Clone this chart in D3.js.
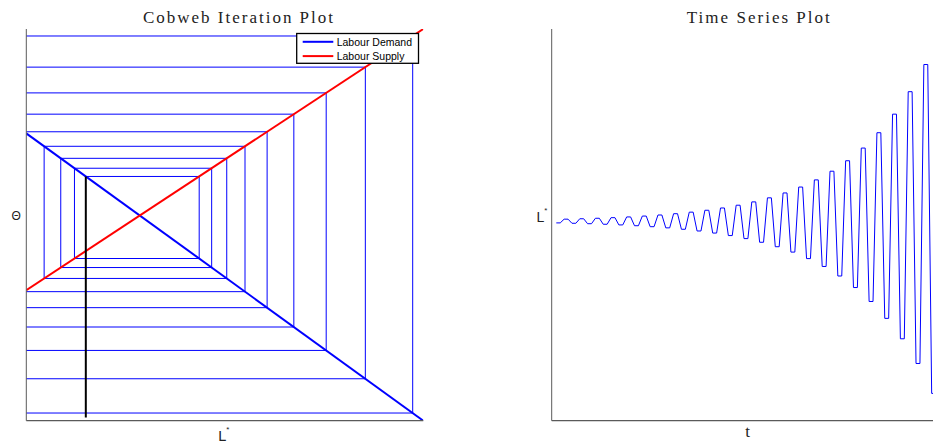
<!DOCTYPE html>
<html>
<head>
<meta charset="utf-8">
<script src="https://cdn.jsdelivr.net/npm/d3@7"></script>
<style>
  body { margin: 0; background: #fff; }
  svg { display: block; }
</style>
</head>
<body>
<svg id="chart" width="933" height="444"></svg>
<script>
// ---- Model data -------------------------------------------------------
// Labour demand and labour supply, each a straight line through two points (L, Θ)
const demandL = [0, 1];
const demandTheta = [0.7335, 0];
const supplyL = [0, 1];
const supplyTheta = [0.33318, 1.0];

// Equilibrium point where the two lines cross
const equilibriumL = 0.285878;
const equilibriumTheta = 0.523809;

// Successive labour levels L0, L1, L2, ... produced by the cobweb iteration
const labourIterates = [
  0.1499, 0.4355, 0.1213, 0.4669, 0.0868, 0.5049, 0.0449, 0.5509,
  -0.0056, 0.6066, -0.0669, 0.6739, -0.1409, 0.7554, -0.2306, 0.8540,
  -0.3390, 0.9733, -0.4703, 1.1176, -0.6291, 1.2923, -0.8212, 1.5037,
  -1.0537, 1.7594, -1.3350, 2.0688, -1.6754, 2.4433, -2.0872, 2.8963,
  -2.5856, 3.4445, -3.1886, 4.1078, -3.9182, 4.9104, -4.8011, 5.8816,
  -5.8694, 7.0567, -7.1620, 8.4785, -8.7260, 10.1990, -10.6185, 12.2807,
  -12.9085, 14.7997
];

// Θ level where the starting vertical line begins
const startTheta = 0.008;

// Axis ranges
const cobwebLDomain = [0, 1];
const cobwebThetaDomain = [0, 1];
const seriesTDomain = [0, 100];
const seriesLDomain = [-15, 15];

// Texts
const cobwebTitle = "Cobweb Iteration Plot";
const seriesTitle = "Time Series Plot";
const legendLabels = ["Labour Demand", "Labour Supply"];
const thetaTickLabel = "Θ";
const seriesXLabel = "t";

// ---- Drawing ------------------------------------------------------------
const svg = d3.select("#chart");
const blue = "#0000ff";
const red = "#ff0000";
const axisColor = "#5a5a5a";
const textColor = "#222";

// Straight-line functions built from the two-point definitions
const demandAt = d3.scaleLinear().domain(demandL).range(demandTheta);
const supplyAt = d3.scaleLinear().domain(supplyL).range(supplyTheta);

// ---------- Left panel: cobweb ----------
const left = { x0: 26.3, x1: 423.3, y0: 29, y1: 420.7 };
const xC = d3.scaleLinear().domain(cobwebLDomain).range([left.x0, left.x1]);
const yC = d3.scaleLinear().domain(cobwebThetaDomain).range([left.y1, left.y0]);

const defs = svg.append("defs");
defs.append("clipPath").attr("id", "clipCobweb")
  .append("rect")
  .attr("x", left.x0).attr("y", left.y0)
  .attr("width", left.x1 - left.x0).attr("height", left.y1 - left.y0);

const gC = svg.append("g");
const plotC = gC.append("g").attr("clip-path", "url(#clipCobweb)");

// cobweb staircase: vertical to demand, horizontal across to supply, repeat
const webPoints = [];
labourIterates.forEach((l, i) => {
  if (i > 0) webPoints.push([l, demandAt(labourIterates[i - 1])]);
  webPoints.push([l, demandAt(l)]);
});
const lineC = d3.line().x(d => xC(d[0])).y(d => yC(d[1]));

plotC.append("path")
  .attr("d", lineC(webPoints))
  .attr("fill", "none")
  .attr("stroke", blue)
  .attr("stroke-width", 1);

// demand and supply lines
plotC.append("path")
  .attr("d", lineC(demandL.map((l, i) => [l, demandTheta[i]])))
  .attr("stroke", blue).attr("stroke-width", 2).attr("fill", "none");
plotC.append("path")
  .attr("d", lineC(supplyL.map((l, i) => [l, supplyTheta[i]])))
  .attr("stroke", red).attr("stroke-width", 2).attr("fill", "none");

// starting level L0
plotC.append("path")
  .attr("d", lineC([[labourIterates[0], startTheta], [labourIterates[0], demandAt(labourIterates[0])]]))
  .attr("stroke", "#000").attr("stroke-width", 2).attr("fill", "none");

// axes (left and bottom only)
gC.append("line")
  .attr("x1", left.x0).attr("x2", left.x0).attr("y1", left.y0).attr("y2", left.y1)
  .attr("stroke", axisColor).attr("stroke-width", 1);
gC.append("line")
  .attr("x1", left.x0).attr("x2", left.x1).attr("y1", left.y1).attr("y2", left.y1)
  .attr("stroke", axisColor).attr("stroke-width", 1.2);

// Θ tick label at the equilibrium wage
gC.append("text")
  .attr("x", left.x0 - 5.5).attr("y", yC(equilibriumTheta))
  .attr("text-anchor", "end").attr("dominant-baseline", "central")
  .attr("font-family", "Liberation Sans, Arial, sans-serif")
  .attr("font-size", 12).attr("fill", textColor)
  .text(thetaTickLabel);

// x label L*
const lx = gC.append("text")
  .attr("x", (left.x0 + left.x1) / 2 - 1).attr("y", 441)
  .attr("text-anchor", "middle")
  .attr("font-family", "Liberation Sans, Arial, sans-serif")
  .attr("font-size", 14.5).attr("fill", textColor);
lx.append("tspan").text("L");
lx.append("tspan").attr("font-size", 8).attr("dy", -9).text("*");

// title
gC.append("text")
  .attr("x", 238).attr("y", 23)
  .attr("text-anchor", "middle")
  .attr("font-family", "Liberation Serif, Times New Roman, serif")
  .attr("font-size", 17).attr("fill", textColor)
  .attr("textLength", 190).attr("lengthAdjust", "spacing")
  .text(cobwebTitle);

// legend
const legend = gC.append("g");
legend.append("rect")
  .attr("x", 296.7).attr("y", 33.5).attr("width", 121.8).attr("height", 29.8)
  .attr("fill", "#fff").attr("stroke", "#000").attr("stroke-width", 1.3);
[blue, red].forEach((c, i) => {
  const y = 41.8 + i * 14.3;
  legend.append("line")
    .attr("x1", 302.7).attr("x2", 333.3).attr("y1", y).attr("y2", y)
    .attr("stroke", c).attr("stroke-width", 2);
  legend.append("text")
    .attr("x", 336.7).attr("y", y).attr("dominant-baseline", "central")
    .attr("font-family", "Liberation Sans, Arial, sans-serif")
    .attr("font-size", 10.5).attr("fill", "#000")
    .text(legendLabels[i]);
});

// ---------- Right panel: time series ----------
const right = { x0: 552.4, x1: 943.4, y0: 29, y1: 420.7 };
const xT = d3.scaleLinear().domain(seriesTDomain).range([right.x0, right.x1]);
const yT = d3.scaleLinear().domain(seriesLDomain).range([right.y1, right.y0]);

defs.append("clipPath").attr("id", "clipSeries")
  .append("rect")
  .attr("x", right.x0).attr("y", right.y0)
  .attr("width", right.x1 - right.x0).attr("height", right.y1 - right.y0);

const gT = svg.append("g");

// each labour level is held over two consecutive steps, like the web path
const series = labourIterates.flatMap(l => [l, l]).map((l, i) => [i + 1, l]);

gT.append("g").attr("clip-path", "url(#clipSeries)")
  .append("path")
  .attr("d", d3.line().x(d => xT(d[0])).y(d => yT(d[1]))(series))
  .attr("fill", "none").attr("stroke", blue).attr("stroke-width", 1);

gT.append("line")
  .attr("x1", right.x0 - 0.7).attr("x2", right.x0 - 0.7).attr("y1", right.y0).attr("y2", right.y1)
  .attr("stroke", axisColor).attr("stroke-width", 1);
gT.append("line")
  .attr("x1", right.x0 - 0.7).attr("x2", right.x1).attr("y1", right.y1).attr("y2", right.y1)
  .attr("stroke", axisColor).attr("stroke-width", 1.2);

// L* tick label at the equilibrium labour level
const ly = gT.append("text")
  .attr("x", right.x0 - 5).attr("y", yT(equilibriumL) + 0.6)
  .attr("text-anchor", "end")
  .attr("font-family", "Liberation Sans, Arial, sans-serif")
  .attr("font-size", 14).attr("fill", textColor);
ly.append("tspan").text("L");
ly.append("tspan").attr("font-size", 8).attr("dy", -9).text("*");

gT.append("text")
  .attr("x", 747.7).attr("y", 437.3)
  .attr("text-anchor", "middle")
  .attr("font-family", "Liberation Serif, Times New Roman, serif")
  .attr("font-size", 17).attr("fill", textColor)
  .text(seriesXLabel);

gT.append("text")
  .attr("x", 758.3).attr("y", 23)
  .attr("text-anchor", "middle")
  .attr("font-family", "Liberation Serif, Times New Roman, serif")
  .attr("font-size", 17).attr("fill", textColor)
  .attr("textLength", 143).attr("lengthAdjust", "spacing")
  .text(seriesTitle);
</script>
</body>
</html>
